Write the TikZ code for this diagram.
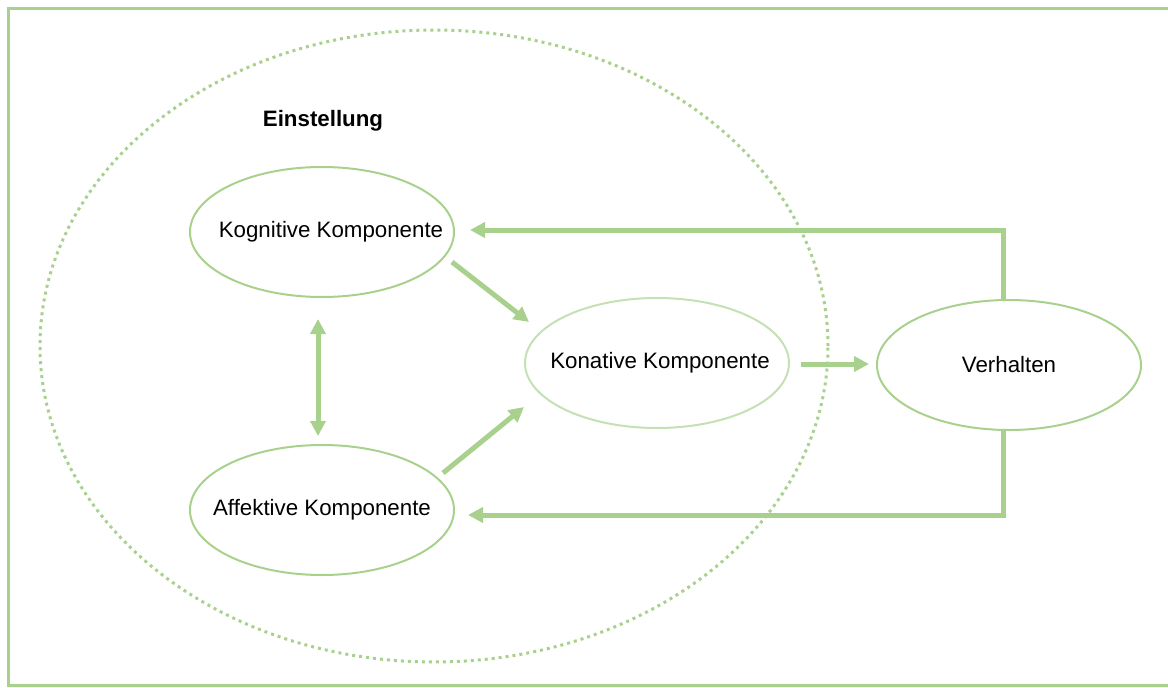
\documentclass[tikz,border=0pt]{standalone}
\usepackage{fontspec}
\setmainfont{Liberation Sans}
\usetikzlibrary{shapes.geometric,arrows.meta,calc}
\definecolor{lgreen}{HTML}{A9D18E}
\definecolor{pgreen}{HTML}{C5E0B4}
\tikzset{
  comp/.style={ellipse, draw=lgreen, line width=2pt, minimum width=264pt, minimum height=130pt, inner sep=0pt, font=\fontsize{22.3}{26}\selectfont},
  arr/.style={draw=lgreen, line width=5pt, -{Triangle[length=15pt,width=15pt]}},
  darr/.style={draw=lgreen, line width=5pt, {Triangle[length=15pt,width=15pt]}-{Triangle[length=15pt,width=15pt]}},
}
\begin{document}
\begin{tikzpicture}[x=1pt,y=-1pt]
\useasboundingbox (0,0) rectangle (1168,688);
\draw[lgreen, line width=3pt] (8,8) rectangle (1172,685);
\node[ellipse, draw=lgreen, line width=3pt, dash pattern=on 3pt off 4pt, minimum width=788pt, minimum height=632pt, inner sep=0pt] (einst) at (434,346) {};
\node[font=\bfseries\fontsize{22.3}{26}\selectfont] (title) at (323,121) {Einstellung};
\node[comp] (kog) at (322,232) {\makebox[0pt]{\hspace*{18pt}Kognitive Komponente}};
\node[comp] (aff) at (322,510) {\makebox[0pt]{Affektive Komponente}};
\node[comp, draw=pgreen] (kon) at (657,363) {\makebox[0pt]{\hspace*{6pt}Konative Komponente}};
\node[comp] (ver) at (1009,365) {\makebox[0pt]{Verhalten}};
\draw[arr] ($(kog.east)+(-3,30)$) -- ($(kon.west)+(5,-41)$);
\draw[arr] ($(aff.east)+(-12,-37)$) -- ($(kon.west)+(0,44)$);
\draw[darr] ($(kog.south)+(-4,21)$) -- ($(aff.north)+(-4,-8)$);
\draw[arr] ($(kon.east)+(11,1)$) -- ($(ver.west)+(-7,-1)$);
\draw[arr, line join=miter] ($(ver.north)+(-6,0)$) |- ($(kog.east)+(15,-2)$);
\draw[arr, line join=miter] ($(ver.south)+(-6,0)$) |- ($(aff.east)+(13,5)$);
\end{tikzpicture}
\end{document}
